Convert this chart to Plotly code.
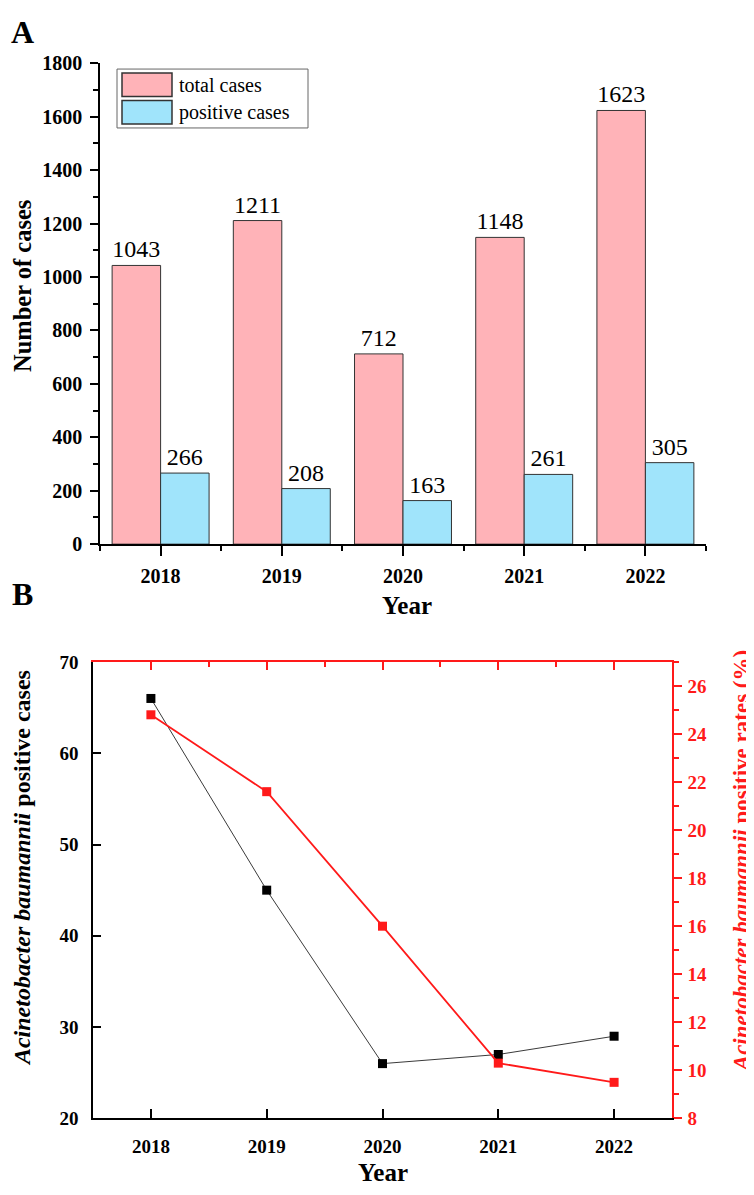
import plotly.graph_objects as go

# ---------------- data ----------------
years = [2018, 2019, 2020, 2021, 2022]
total_cases = [1043, 1211, 712, 1148, 1623]
positive_cases = [266, 208, 163, 261, 305]
ab_positive_cases = [66, 45, 26, 27, 29]
ab_positive_rates = [24.8, 21.6, 16.0, 10.3, 9.5]
legend_labels = ["total cases", "positive cases"]

# ---------------- styling ----------------
W, H = 754, 1195
OFF = 8  # page body margin compensation


def px(x):
    return (x - OFF) / W


def py(y):
    return 1 - (y - OFF) / H


FONT = "Liberation Serif, Times New Roman, serif"
PINK = "#ffb3b8"
BLUE = "#a0e4fb"
RED = "#ff1a1a"
EDGE = "#333333"
TICKFONT = dict(family=FONT, size=20, color="black", weight="bold")

fig = go.Figure()

# ---------------- panel A ----------------
fig.add_trace(go.Bar(
    x=years, y=total_cases, name=legend_labels[0],
    marker=dict(color=PINK, line=dict(color=EDGE, width=1)),
    text=[str(v) for v in total_cases], textposition="outside",
    textfont=dict(family=FONT, size=24, color="black"),
    constraintext="none", cliponaxis=False, showlegend=False,
    xaxis="x", yaxis="y"))
fig.add_trace(go.Bar(
    x=years, y=positive_cases, name=legend_labels[1],
    marker=dict(color=BLUE, line=dict(color=EDGE, width=1)),
    text=[str(v) for v in positive_cases], textposition="outside",
    textfont=dict(family=FONT, size=24, color="black"),
    constraintext="none", cliponaxis=False, showlegend=False,
    xaxis="x", yaxis="y"))

# ---------------- panel B ----------------
fig.add_trace(go.Scatter(
    x=years, y=ab_positive_cases, mode="lines+markers",
    line=dict(color="#3a3a3a", width=1),
    marker=dict(symbol="square", size=9, color="black"),
    showlegend=False, cliponaxis=False, xaxis="x2", yaxis="y2"))
fig.add_trace(go.Scatter(
    x=years, y=ab_positive_rates, mode="lines+markers",
    line=dict(color=RED, width=1.8),
    marker=dict(symbol="square", size=9, color=RED),
    showlegend=False, cliponaxis=False, xaxis="x3", yaxis="y3"))

fig.update_layout(
    width=W, height=H, autosize=False,
    margin=dict(l=0, r=0, t=0, b=0),
    paper_bgcolor="white", plot_bgcolor="white",
    barmode="group", bargap=0.2, bargroupgap=0,
    font=dict(family=FONT, color="black"),
    xaxis=dict(
        domain=[px(100), px(706)], anchor="y",
        range=[2017.5, 2022.5], tickmode="linear", tick0=2018, dtick=1,
        ticks="outside", ticklen=10, tickwidth=1.5, tickcolor="black",
        showline=True, linecolor="black", linewidth=1.5,
        showgrid=False, zeroline=False, tickfont=TICKFONT,
        ticklabelstandoff=3,
        minor=dict(dtick=0.5, ticks="outside", ticklen=5, tickwidth=1.5,
                   tickcolor="black", showgrid=False),
    ),
    yaxis=dict(
        domain=[py(543), py(53)], anchor="x",
        range=[0, 1800], tickmode="linear", tick0=0, dtick=200,
        ticks="outside", ticklen=8, tickwidth=1.5, tickcolor="black",
        showline=True, linecolor="black", linewidth=1.5,
        showgrid=False, zeroline=False, tickfont=TICKFONT,
        ticklabelstandoff=4,
        minor=dict(dtick=100, ticks="outside", ticklen=5, tickwidth=1.5,
                   tickcolor="black", showgrid=False),
    ),
    xaxis2=dict(
        domain=[px(93), px(672)], anchor="y2",
        range=[2017.5, 2022.5], tickmode="linear", tick0=2018, dtick=1,
        ticks="inside", ticklen=10, tickwidth=1.5, tickcolor="black",
        showline=True, linecolor="black", linewidth=1.5,
        showgrid=False, zeroline=False, tickfont=dict(TICKFONT, size=19),
        ticklabelstandoff=10,
    ),
    yaxis2=dict(
        domain=[py(1128), py(663)], anchor="x2",
        range=[20, 70], tickmode="linear", tick0=20, dtick=10,
        ticks="inside", ticklen=8, tickwidth=1.5, tickcolor="black",
        showline=True, linecolor="black", linewidth=1.5,
        showgrid=False, zeroline=False, tickfont=dict(TICKFONT, size=19),
        ticklabelstandoff=9,
    ),
    xaxis3=dict(
        overlaying="x2", anchor="y3", side="top",
        range=[2017.5, 2022.5], tickmode="linear", tick0=2018, dtick=1,
        ticks="inside", ticklen=8, tickwidth=1.5, tickcolor=RED,
        showline=True, linecolor=RED, linewidth=1.5,
        showgrid=False, zeroline=False, showticklabels=False,
        minor=dict(dtick=0.5, ticks="inside", ticklen=5, tickwidth=1.5,
                   tickcolor=RED, showgrid=False),
    ),
    yaxis3=dict(
        overlaying="y2", anchor="x3", side="right",
        range=[8, 27], tickmode="linear", tick0=8, dtick=2,
        ticks="outside", ticklen=8, tickwidth=1.5, tickcolor=RED,
        showline=True, linecolor=RED, linewidth=1.5,
        showgrid=False, zeroline=False,
        tickfont=dict(family=FONT, size=19, color=RED, weight="bold"),
        ticklabelstandoff=2,
        minor=dict(dtick=1, ticks="outside", ticklen=5, tickwidth=1.5,
                   tickcolor=RED, showgrid=False),
    ),
)

# ---------------- custom legend (panel A) ----------------
shapes = [
    dict(type="rect", xref="paper", yref="paper",
         x0=px(117), x1=px(308), y0=py(119), y1=py(59),
         line=dict(color="#666666", width=1), fillcolor="white"),
    dict(type="rect", xref="paper", yref="paper",
         x0=px(122), x1=px(172), y0=py(87), y1=py(63),
         line=dict(color=EDGE, width=1.5), fillcolor=PINK),
    dict(type="rect", xref="paper", yref="paper",
         x0=px(122), x1=px(172), y0=py(115), y1=py(91),
         line=dict(color=EDGE, width=1.5), fillcolor=BLUE),
]
fig.update_layout(shapes=shapes)

ann = []


def add_text(text, x, y, size, color="black", angle=0, xanchor="center", weight="normal"):
    ann.append(dict(text=text, x=px(x), y=py(y), xref="paper", yref="paper",
                    showarrow=False, textangle=angle, xanchor=xanchor, yanchor="middle",
                    borderpad=0,
                    font=dict(family=FONT, size=size, color=color, weight=weight)))


add_text(legend_labels[0], 178, 75, 20, xanchor="left")
add_text(legend_labels[1], 178, 103, 20, xanchor="left")

add_text("A", 22, 21, 32, weight="bold")
add_text("B", 22, 594, 32, weight="bold")

add_text("Number of cases", 23, 280, 24.5, angle=-90, weight="bold")
add_text("Year", 407, 606, 25, weight="bold")

add_text("<i>Acinetobacter baumannii</i> positive cases", 22, 873, 24, angle=-90, weight="bold")
add_text("<i>Acinetobacter baumannii</i> positive rates (%)", 741, 866, 23, color=RED,
         angle=-90, weight="bold")
add_text("Year", 383, 1183, 25, weight="bold")

fig.update_layout(annotations=ann)

fig.write_html("out.html")
